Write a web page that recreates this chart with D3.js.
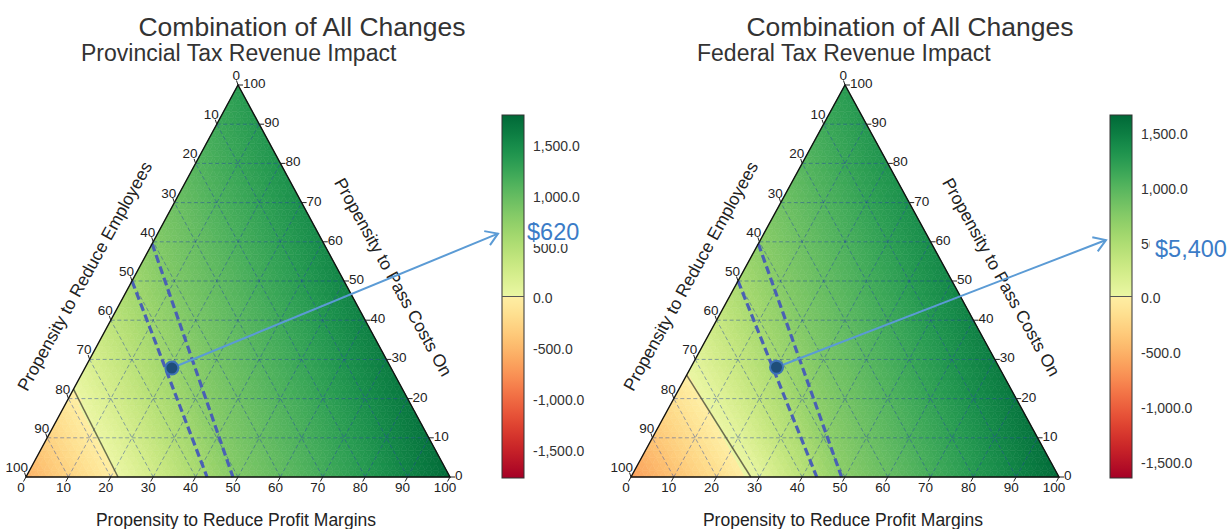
<!DOCTYPE html>
<html><head><meta charset="utf-8">
<script src="https://cdn.jsdelivr.net/npm/d3@7"></script>
<style>body{margin:0;background:#fff}svg{display:block}text{font-family:"Liberation Sans",Arial,sans-serif}</style>
</head><body><svg id="c" width="1230" height="529"></svg>
<script>
// ---------- data ----------
const axisTicks = [0,10,20,30,40,50,60,70,80,90,100];
const mainTitle = "Combination of All Changes";
const subTitles = ["Provincial Tax Revenue Impact", "Federal Tax Revenue Impact"];
const bottomLabel = "Propensity to Reduce Profit Margins";
const leftLabel = "Propensity to Reduce Employees";
const rightLabel = "Propensity to Pass Costs On";
// grid values: rows = Pass Costs On (0,10,..,100); within a row, Reduce Profit Margins 0,10,...
const provincialGrid = [
  [-550,-297,-43,245,540,821,1000,1175,1350,1550,1750],
  [-304,-51,221,502,782,968,1142,1315,1508,1706],
  [-58,201,466,732,934,1109,1280,1468,1664],
  [189,437,694,902,1077,1249,1430,1622],
  [416,655,870,1044,1217,1392,1584],
  [620,845,1012,1184,1354,1550],
  [807,979,1150,1318,1502],
  [945,1117,1284,1462],
  [1079,1245,1420],
  [1210,1378],
  [1340]
];
const federalGrid = [
  [-630,-405,-180,68,405,715,900,1075,1250,1430,1620],
  [-388,-163,79,375,672,869,1044,1217,1394,1578],
  [-146,81,348,626,835,1012,1184,1358,1538],
  [88,331,582,804,979,1149,1320,1498],
  [304,554,770,947,1115,1284,1459],
  [520,739,914,1080,1246,1419],
  [707,881,1047,1211,1380],
  [852,1017,1180,1345],
  [987,1150,1313],
  [1120,1275],
  [1250]
];
const colorTicks = [-1500,-1000,-500,0,500,1000,1500];
const colorRanges = [1790, 1656];
const markers = [[20.5,27.8],[20,28]];            // [profit margins, pass costs]
const zeroContours = [[[0,22.4],[21.7,0]], [[0,26],[28,0]]];
const bandLines = [
  [[[0,50],[42.7,0]], [[0,59.5],[48.8,0]]],
  [[[0,50],[43.4,0]], [[0,59.5],[49.2,0]]]
];
const annotTexts = ["$620", "$5,400"];
const annotValues = [620, 515];

// ---------- layout ----------
const svg = d3.select("#c");
const defs = svg.append("defs");
const charts = [
  {xL:26, W:424, yB:477, H:392, cbX:502, titleX:302, subX:81, grid:provincialGrid},
  {xL:631, W:428, yB:477, H:392, cbX:1110, titleX:910, subX:697, grid:federalGrid}
];
const cbTop = 115, cbBot = 478, cbW = 22;
const locale = d3.formatLocale({decimal:".", thousands:",", grouping:[3], currency:["$",""], minus:"-"});
const fmt = locale.format(",.1f");

function colorFor(v, R){
  const pos = d3.scaleLinear().domain([0,R]).range([0.55,1]).clamp(true);
  const neg = d3.scaleLinear().domain([-R,0]).range([0,0.45]).clamp(true);
  return v >= 0 ? d3.interpolateRdYlGn(pos(v)) : d3.interpolateRdYlGn(neg(v));
}

charts.forEach((c, k) => {
  const R = colorRanges[k];
  const x = d3.scaleLinear().domain([0,100]).range([c.xL, c.xL + c.W]);
  const y = d3.scaleLinear().domain([0,100]).range([c.yB, c.yB - c.H]);
  const P = (b, r) => [x(b + r/2), y(r)];
  const g = svg.append("g");
  const line = d3.line();

  // titles
  g.append("text").attr("x", c.titleX).attr("y", 36).attr("text-anchor","middle")
    .attr("font-size", 26.5).attr("fill","#333").text(mainTitle);
  g.append("text").attr("x", c.subX).attr("y", 61)
    .attr("font-size", 23).attr("fill","#333").text(subTitles[k]);

  // heatmap
  const grid = c.grid;
  const val = (i, j) => grid[j][i];
  const n = 6;
  const tris = [];
  function addTri(A, B, C){
    const pt = (u, w) => {
      const s = 1 - u - w;
      return [A[0]*s + B[0]*u + C[0]*w, A[1]*s + B[1]*u + C[1]*w, A[2]*s + B[2]*u + C[2]*w];
    };
    for (let a = 0; a < n; a++){
      for (let bb = 0; bb < n - a; bb++){
        const p1 = pt(a/n, bb/n), p2 = pt((a+1)/n, bb/n), p3 = pt(a/n, (bb+1)/n);
        tris.push([p1,p2,p3]);
        if (a + bb + 2 <= n) tris.push([p2, pt((a+1)/n, (bb+1)/n), p3]);
      }
    }
  }
  for (let j = 0; j < 10; j++){
    for (let i = 0; i + j < 10; i++){
      addTri([i*10,j*10,val(i,j)], [(i+1)*10,j*10,val(i+1,j)], [i*10,(j+1)*10,val(i,j+1)]);
      if (i + j + 2 <= 10)
        addTri([(i+1)*10,j*10,val(i+1,j)], [(i+1)*10,(j+1)*10,val(i+1,j+1)], [i*10,(j+1)*10,val(i,j+1)]);
    }
  }
  const triColor = t => colorFor((t[0][2]+t[1][2]+t[2][2])/3, R);
  g.append("g").selectAll("path").data(tris).join("path")
    .attr("d", t => line(t.map(p => P(p[0], p[1]))) + "Z")
    .attr("fill", triColor).attr("stroke", triColor).attr("stroke-width", 0.6);

  // gridlines
  const gl = g.append("g").attr("stroke","#1f3f9f").attr("stroke-opacity",0.5)
    .attr("stroke-width",0.9).attr("stroke-dasharray","4,2.5").attr("fill","none");
  axisTicks.slice(1,-1).forEach(t => {
    gl.append("path").attr("d", line([P(0,t), P(100-t,t)]));
    gl.append("path").attr("d", line([P(t,0), P(t,100-t)]));
    gl.append("path").attr("d", line([P(t,0), P(0,t)]));
  });

  // zero contour
  g.append("path").attr("d", line(zeroContours[k].map(p => P(p[0],p[1]))))
    .attr("stroke","#55553f").attr("stroke-opacity",0.85).attr("stroke-width",1.5).attr("fill","none");

  // band lines
  bandLines[k].forEach(l => {
    g.append("path").attr("d", line(l.map(p => P(p[0],p[1]))))
      .attr("stroke","#4a60b4").attr("stroke-width",3.2).attr("stroke-dasharray","8,4").attr("fill","none");
  });

  // triangle border
  g.append("path").attr("d", line([P(0,0),P(100,0),P(0,100)]) + "Z")
    .attr("fill","none").attr("stroke","#111").attr("stroke-width",1.4);

  // ticks & labels
  const tk = g.append("g").attr("font-size",13.5).attr("fill","#222");
  axisTicks.forEach(t => {
    let p = P(t,0);
    tk.append("line").attr("x1",p[0]).attr("y1",p[1]).attr("x2",p[0]-2.5).attr("y2",p[1]+4.5).attr("stroke","#222");
    tk.append("text").attr("x",p[0]-5).attr("y",p[1]+15).attr("text-anchor","middle").text(t);
    p = P(0, 100 - t);
    tk.append("line").attr("x1",p[0]).attr("y1",p[1]).attr("x2",p[0]-1.5).attr("y2",p[1]-4.5).attr("stroke","#222");
    tk.append("text").attr("x",p[0]+2).attr("y",p[1]-5).attr("text-anchor","end").text(t);
    p = P(100 - t, t);
    tk.append("line").attr("x1",p[0]).attr("y1",p[1]).attr("x2",p[0]+5).attr("y2",p[1]).attr("stroke","#222");
    tk.append("text").attr("x",p[0]+5).attr("y",p[1]+3).text(t);
  });

  // axis titles
  g.append("text").attr("x", x(50) - 2).attr("y", 526).attr("text-anchor","middle")
    .attr("font-size",17.5).attr("fill","#222").text(bottomLabel);
  const lm = P(0,50), rm = P(50,50);
  g.append("text").attr("transform",`translate(${lm[0]-42},${lm[1]-2}) rotate(-61)`)
    .attr("text-anchor","middle").attr("font-size",17.5).attr("fill","#222").text(leftLabel);
  g.append("text").attr("transform",`translate(${rm[0]+44},${rm[1]-1}) rotate(61)`)
    .attr("text-anchor","middle").attr("font-size",17.5).attr("fill","#222").text(rightLabel);

  // colorbar
  const cy = d3.scaleLinear().domain([-R, R]).range([cbBot, cbTop]);
  const gid = "cbg" + k;
  const grad = defs.append("linearGradient").attr("id",gid)
    .attr("x1","0").attr("y1","1").attr("x2","0").attr("y2","0");
  d3.range(0,21).forEach(i => { const v = -R + i*R/20;
    grad.append("stop").attr("offset",(v+R)/(2*R)).attr("stop-color", colorFor(v === 0 ? -1e-6 : v, R)); });
  d3.range(0,21).forEach(i => { const v = i*R/20;
    grad.append("stop").attr("offset",(v+R)/(2*R)).attr("stop-color", colorFor(v,R)); });

  g.append("rect").attr("x",c.cbX).attr("y",cbTop).attr("width",cbW).attr("height",cbBot-cbTop)
    .attr("fill",`url(#${gid})`).attr("stroke","#333").attr("stroke-width",1);
  g.append("line").attr("x1",c.cbX).attr("x2",c.cbX+cbW).attr("y1",cy(0)).attr("y2",cy(0))
    .attr("stroke","#555").attr("stroke-width",1);
  const ax = d3.axisRight(cy).tickValues(colorTicks).tickSize(0).tickPadding(9).tickFormat(fmt);
  const axg = g.append("g").attr("transform",`translate(${c.cbX+cbW},2)`).call(ax);
  axg.select(".domain").remove();
  axg.selectAll("text").attr("font-size",14).attr("fill","#333").attr("font-family","Liberation Sans, Arial, sans-serif");

  // marker + arrow
  const m = P(markers[k][0], markers[k][1]);
  const end = [c.cbX - 4, cy(annotValues[k])];
  g.append("line").attr("x1",m[0]).attr("y1",m[1]).attr("x2",end[0]).attr("y2",end[1])
    .attr("stroke","#5b9bd5").attr("stroke-width",2);
  const ang = Math.atan2(end[1]-m[1], end[0]-m[0]);
  const hl = 14, ha = Math.PI/5.5;
  g.append("path").attr("d", line([
      [end[0] - hl*Math.cos(ang - ha), end[1] - hl*Math.sin(ang - ha)], end,
      [end[0] - hl*Math.cos(ang + ha), end[1] - hl*Math.sin(ang + ha)]]))
    .attr("fill","none").attr("stroke","#5b9bd5").attr("stroke-width",2);
  g.append("circle").attr("cx",m[0]).attr("cy",m[1]).attr("r",6.5)
    .attr("fill","#1f4e79").attr("stroke","#3d72b8").attr("stroke-width",2);

  // annotation text with white box
  const tx = k === 0 ? c.cbX + 25 : c.cbX + 45;
  const ty = k === 0 ? 240 : 257;
  const at = g.append("text").attr("x",tx).attr("y",ty).attr("font-size",23.5)
    .attr("font-family","Lato, 'Open Sans', sans-serif").attr("fill","#3b7cc7").text(annotTexts[k]);
  const bb = at.node().getBBox();
  const left = k === 0 ? bb.x - 1 : c.cbX + 39.5;
  g.insert("rect", () => at.node()).attr("x",left).attr("y",bb.y+2)
    .attr("width",bb.x + bb.width + 2 - left).attr("height",bb.height-3).attr("fill","#fff");
});
</script></body></html>
